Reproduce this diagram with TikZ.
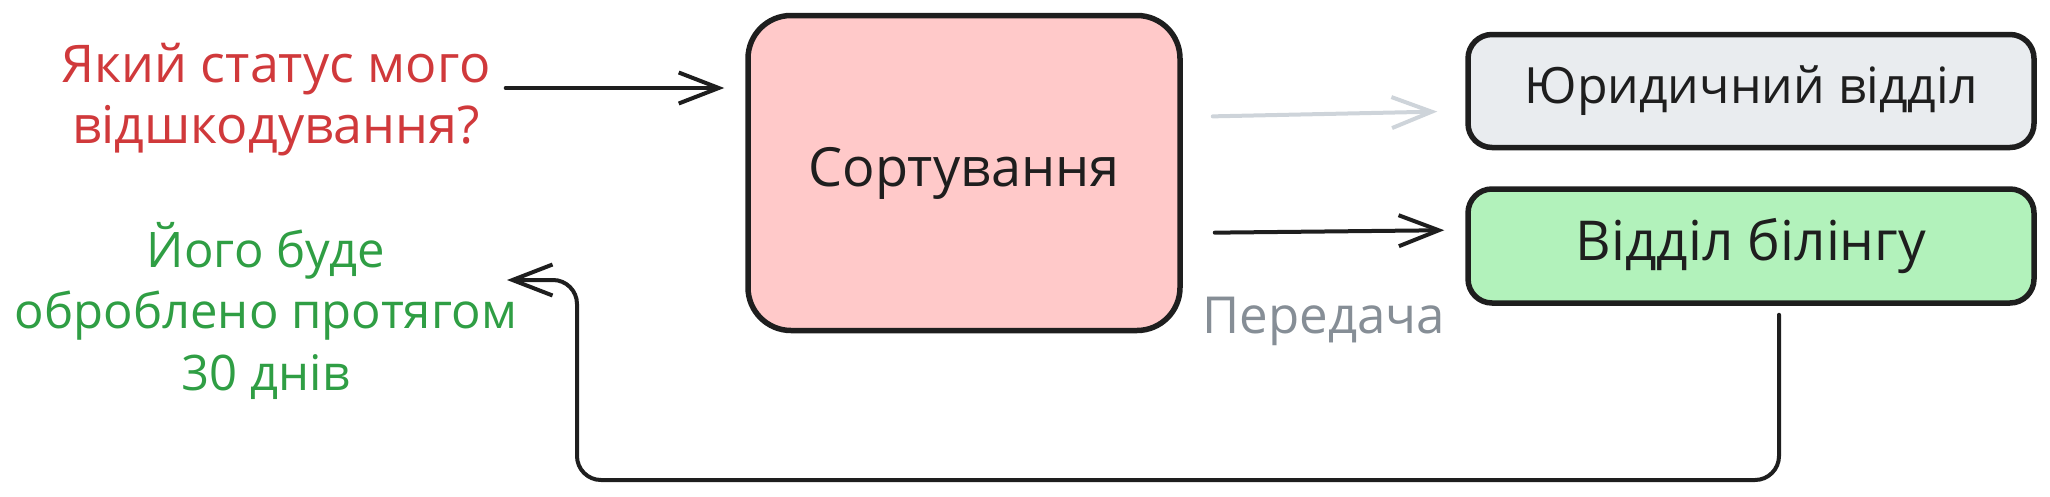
\documentclass[tikz,border=0pt]{standalone}
\usepackage{fontspec}
\setmainfont{Open Sans}
\usetikzlibrary{arrows.meta}
\definecolor{stroke}{HTML}{1E1E1E}
\definecolor{cred}{HTML}{D0393B}
\definecolor{cgreen}{HTML}{2F9E44}
\definecolor{cgrayt}{HTML}{868E96}
\definecolor{cgrayarr}{HTML}{CED4DA}
\definecolor{pinkfill}{HTML}{FFC9C9}
\definecolor{grayfill}{HTML}{E9ECEF}
\definecolor{greenfill}{HTML}{B2F2BB}
\begin{document}
\begin{tikzpicture}[x=1pt,y=-1pt,
  box/.style={draw=stroke, line width=5.5pt, inner sep=0pt, align=center, text=stroke},
  arr/.style={draw=stroke, line width=4pt, line cap=round, line join=round,
    -{Straight Barb[length=40pt,width=31pt,line width=4pt]}},
  txt/.style={align=center, inner sep=0pt, anchor=base}]
\useasboundingbox (0,0) rectangle (2050,496);
\node[box, fill=pinkfill, minimum width=432pt, minimum height=315pt, rounded corners=43pt,
  font=\fontsize{54}{60}\selectfont] (sort) at (964,173) {Сортування};
\node[box, fill=grayfill, minimum width=566pt, minimum height=113pt, rounded corners=24pt,
  font=\fontsize{50}{60}\selectfont] (legal) at (1751,91) {Юридичний відділ};
\node[box, fill=greenfill, minimum width=566pt, minimum height=114pt, rounded corners=24pt,
  font=\fontsize{55}{60}\selectfont] (bill) at (1751,246) {Відділ білінгу};
\node[txt, text=cred, font=\fontsize{52}{61}\selectfont] (q) at (276,143) {Який статус мого\\відшкодування?};
\node[txt, text=cgreen, font=\fontsize{49}{61.5}\selectfont] (ans) at (266,390) {Його буде\\оброблено протягом\\30 днів};
\node[txt, text=cgrayt, font=\fontsize{51}{60}\selectfont] (pass) at (1324,333) {Передача};
\coordinate (fbtip) at (507,280);
\draw[arr, shorten >=21pt] (q.east |- 0,88) ++(15,0) -- (sort.west |- 0,88);
\draw[arr, draw=cgrayarr, shorten <=30pt, shorten >=28pt] (sort.east |- 0,117) -- (legal.west |- 0,111);
\draw[arr, shorten <=32pt, shorten >=21pt] (sort.east |- 0,233) -- (bill.west |- 0,230);
\draw[arr, rounded corners=24pt] ([xshift=28pt]bill.south) ++(0,9) -- (1779,480) -- (577,480) -- (577,280) -- (fbtip);
\end{tikzpicture}
\end{document}
